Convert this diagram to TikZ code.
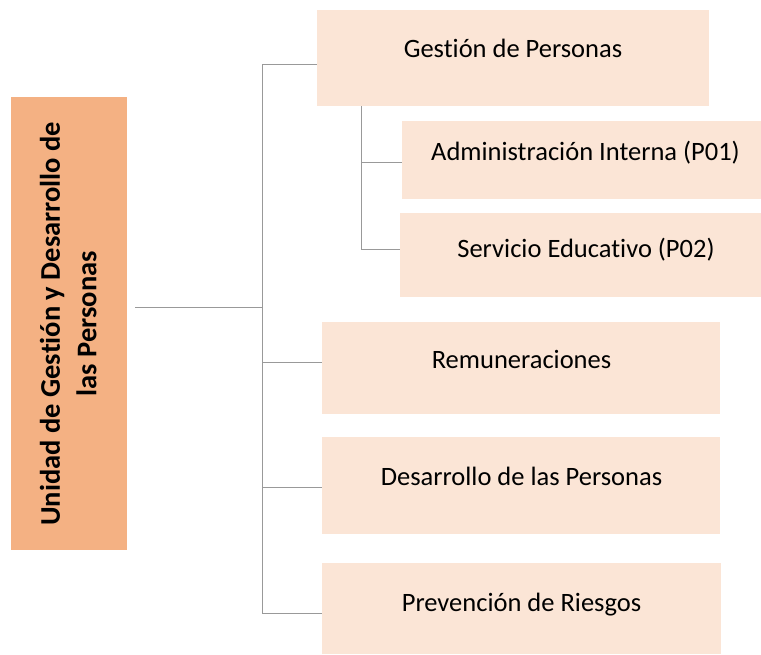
\documentclass[tikz,border=0pt]{standalone}
\usepackage{fontspec}
\setmainfont[RawFeature={-liga;-clig;-calt;-dlig}]{Carlito}
\definecolor{headfill}{HTML}{F4B183}
\definecolor{boxfill}{HTML}{FBE5D6}
\definecolor{linegray}{HTML}{999999}
\begin{document}
\begin{tikzpicture}[x=1pt,y=-1pt,
  box/.style={draw=none,fill=boxfill,inner sep=0pt,anchor=north west},
  head/.style={draw=none,fill=headfill,inner sep=0pt,anchor=north west},
  lbl/.style={anchor=base,inner sep=0pt,font=\fontsize{26.5}{32}\selectfont},
  conn/.style={draw=linegray,line width=1pt}]
\useasboundingbox (0,0) rectangle (761,654);
% boxes
\node[head,minimum width=116pt,minimum height=453pt] (L) at (11,97) {};
\node[box,minimum width=392pt,minimum height=96pt] (g) at (317,10) {};
\node[box,minimum width=359pt,minimum height=78pt] (a) at (402,121) {};
\node[box,minimum width=361pt,minimum height=84pt] (s) at (400,213) {};
\node[box,minimum width=398pt,minimum height=92pt] (r) at (322,322) {};
\node[box,minimum width=398pt,minimum height=97pt] (d) at (322,437) {};
\node[box,minimum width=399pt,minimum height=91pt] (p) at (322,563) {};
% texts
\node[rotate=90,align=center,inner sep=0pt,font=\fontsize{28.5}{36.5}\selectfont\bfseries] (Lt) at ([xshift=-1pt]L.center) {Unidad de Gestión y Desarrollo de\\las Personas};
\node[lbl] (gt) at (513,57) {Gestión de Personas};
\node[lbl] (at) at (585.5,160) {Administración Interna (P01)};
\node[lbl] (st) at (586,257) {Servicio Educativo (P02)};
\node[lbl] (rt) at (521.5,368) {Remuneraciones};
\node[lbl] (dt) at (521.5,485) {Desarrollo de las Personas};
\node[lbl] (pt) at (521.5,611) {Prevención de Riesgos};
% connectors
\coordinate (root) at (135,307);
\coordinate (tj) at (262,307);
\coordinate (ttop) at (262,64);
\coordinate (tbot) at (262,613);
\coordinate (sj1) at (361,162);
\coordinate (sj2) at (361,249);
\draw[conn] (root) -- (tj);
\draw[conn] (ttop) -- (tbot);
\draw[conn] (ttop) -- (g.west |- ttop);
\draw[conn] (tj |- 0,362) -- (r.west |- 0,362);
\draw[conn] (tj |- 0,487) -- (d.west |- 0,487);
\draw[conn] (tbot) -- (p.west |- tbot);
\draw[conn] (g.south -| sj1) -- (sj2);
\draw[conn] (sj1) -- (a.west |- sj1);
\draw[conn] (sj2) -- (s.west |- sj2);
\end{tikzpicture}
\end{document}
